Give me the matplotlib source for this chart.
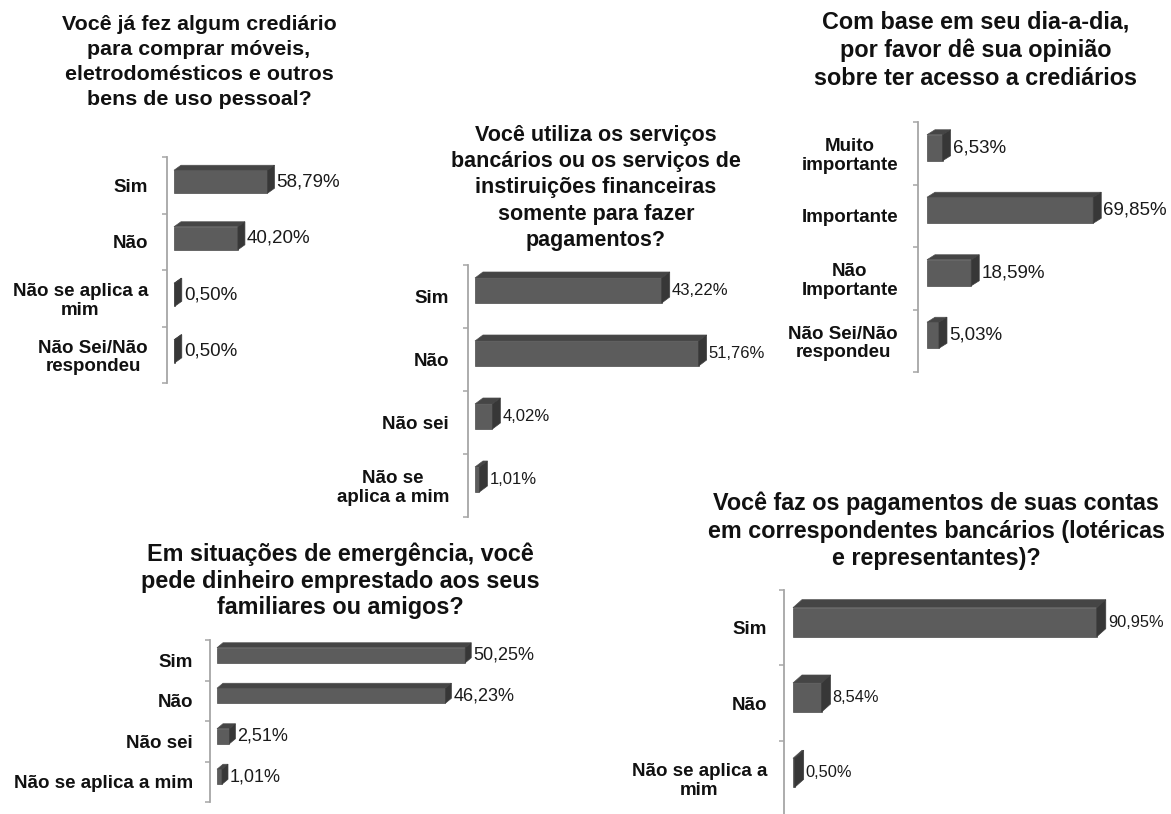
import matplotlib
matplotlib.use("Agg")
import matplotlib.pyplot as plt
from matplotlib.patches import Polygon

plt.rcParams["font.family"] = ["Liberation Sans", "DejaVu Sans"]

W, H = 1171, 814

# ---------------- data ----------------
title1 = "Você já fez algum crediário\npara comprar móveis,\neletrodomésticos e outros\nbens de uso pessoal?"
cats1 = ["Sim", "Não", "Não se aplica a\nmim", "Não Sei/Não\nrespondeu"]
vals1 = [58.79, 40.20, 0.50, 0.50]

title2 = ("Você utiliza os serviços\nbancários ou os serviços de\ninstiruições financeiras\n"
          "somente para fazer\npagamentos?")
cats2 = ["Sim", "Não", "Não sei", "Não se\naplica a mim"]
vals2 = [43.22, 51.76, 4.02, 1.01]

title3 = "Com base em seu dia-a-dia,\npor favor dê sua opinião\nsobre ter acesso a crediários"
cats3 = ["Muito\nimportante", "Importante", "Não\nImportante", "Não Sei/Não\nrespondeu"]
vals3 = [6.53, 69.85, 18.59, 5.03]

title4 = "Em situações de emergência, você\npede dinheiro emprestado aos seus\nfamiliares ou amigos?"
cats4 = ["Sim", "Não", "Não sei", "Não se aplica a mim"]
vals4 = [50.25, 46.23, 2.51, 1.01]

title5 = "Você faz os pagamentos de suas contas\nem correspondentes bancários (lotéricas\ne representantes)?"
cats5 = ["Sim", "Não", "Não se aplica a\nmim"]
vals5 = [90.95, 8.54, 0.50]

# ---------------- layout (pixels) ----------------
# axis x, axis top, axis bottom, gap to bar, px per %, bar height, shift up,
# depth dx, depth dy, value font, title font, title centre, label gap, title line spacing
LAYOUT = [
    dict(ax=167, top=157, bot=383, gap=7, scale=1.59, h=23, shift=3.5, dx=7, dy=5,
         vfs=13.5, tfs=15.4, tc=(199, 62), lg=19, tls=1.38),
    dict(ax=468, top=265, bot=517, gap=7, scale=4.32, h=25, shift=6, dx=8, dy=6,
         vfs=12, tfs=15.5, tc=(596, 188), lg=19, tls=1.33),
    dict(ax=918, top=122, bot=372, gap=9, scale=2.38, h=26, shift=5.5, dx=8, dy=5,
         vfs=13.5, tfs=16.8, tc=(976, 50), lg=20, tls=1.28),
    dict(ax=210, top=640, bot=802, gap=7, scale=4.94, h=15, shift=5, dx=6, dy=5,
         vfs=13, tfs=16.8, tc=(340, 581), lg=17, tls=1.2),
    dict(ax=784, top=590, bot=816, gap=9, scale=3.34, h=29, shift=5.5, dx=9, dy=8,
         vfs=11.8, tfs=16.8, tc=(936, 531), lg=17, tls=1.25),
]

FRONT, TOP, SIDE = "#5c5c5c", "#454545", "#373737"
AXC = "#a6a6a6"

fig = plt.figure(figsize=(W / 100, H / 100), dpi=100)
fig.patch.set_facecolor("white")


def chart(title, cats, vals, L):
    n = len(cats)
    s = (L["bot"] - L["top"]) / n
    width_px = 420
    ax = fig.add_axes([L["ax"] / W, 1 - L["bot"] / H, width_px / W, (L["bot"] - L["top"]) / H])
    ax.set_xlim(-L["gap"] / L["scale"], (width_px - L["gap"]) / L["scale"])
    ax.set_ylim(n - 0.5, -0.5)
    ax.patch.set_alpha(0)
    for sp in ("top", "right", "bottom"):
        ax.spines[sp].set_visible(False)
    ax.spines["left"].set_color(AXC)
    ax.spines["left"].set_linewidth(1.3)
    ax.set_xticks([])
    ax.set_yticks(range(n))
    ax.set_yticklabels(cats, fontsize=13.5, fontweight="bold", color="#111111")
    for t in ax.get_yticklabels():
        t.set_multialignment("center")
        t.set_linespacing(1.1)
    ax.set_yticks([k - 0.5 for k in range(n + 1)], minor=True)
    ax.tick_params(axis="y", which="major", length=0, pad=L["lg"] * 0.72)
    ax.tick_params(axis="y", which="minor", length=3.5, width=1.1, color=AXC, direction="out")

    h = L["h"] / s
    yc = [i - L["shift"] / s for i in range(n)]
    ddx = L["dx"] / L["scale"]
    ddy = L["dy"] / s
    ax.barh(yc, vals, height=h, left=0, color=FRONT, edgecolor="#4c4c4c", linewidth=0.5, zorder=2)
    for y, v in zip(yc, vals):
        yt, yb = y - h / 2, y + h / 2
        ax.add_patch(Polygon([(0, yt), (v, yt), (v + ddx, yt - ddy), (ddx, yt - ddy)],
                             closed=True, facecolor=TOP, edgecolor="#505050", linewidth=0.5, zorder=2))
        ax.add_patch(Polygon([(v, yt), (v, yb), (v + ddx, yb - ddy), (v + ddx, yt - ddy)],
                             closed=True, facecolor=SIDE, edgecolor="#3e3e3e", linewidth=0.5, zorder=3))
        ax.annotate(f"{v:.2f}".replace(".", ",") + "%", xy=(v, y), xytext=((L["dx"] + 2) * 0.72, 0),
                    textcoords="offset points", va="center", ha="left", fontsize=L["vfs"],
                    color="#1a1a1a", annotation_clip=False)

    fig.text(L["tc"][0] / W, 1 - L["tc"][1] / H, title, ha="center", va="center",
             multialignment="center", fontsize=L["tfs"], fontweight="bold", color="#111111",
             linespacing=L["tls"])
    return ax


chart(title1, cats1, vals1, LAYOUT[0])
chart(title2, cats2, vals2, LAYOUT[1])
chart(title3, cats3, vals3, LAYOUT[2])
chart(title4, cats4, vals4, LAYOUT[3])
chart(title5, cats5, vals5, LAYOUT[4])

fig.savefig("out.png", dpi=100)
